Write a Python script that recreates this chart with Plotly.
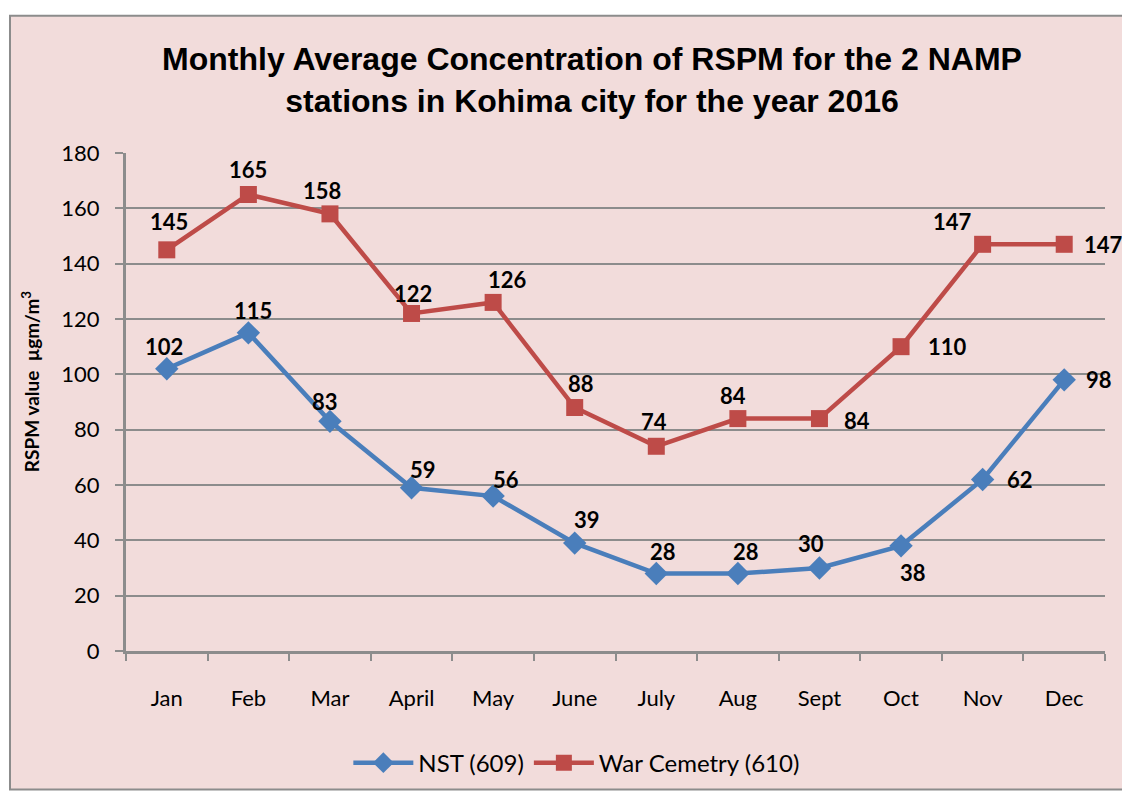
import plotly.graph_objects as go

months = ["Jan", "Feb", "Mar", "April", "May", "June", "July", "Aug", "Sept", "Oct", "Nov", "Dec"]
nst = [102, 115, 83, 59, 56, 39, 28, 28, 30, 38, 62, 98]
war = [145, 165, 158, 122, 126, 88, 74, 84, 84, 110, 147, 147]
y_ticks = [0, 20, 40, 60, 80, 100, 120, 140, 160, 180]

# label offsets in pixels (dx, dy; dy positive = up)
nst_dx = [-3, 5, -5, 11, 13, 12, 7, 8, -8, 12, 37, 35]
nst_dy = [22, 22, 20, 18, 17, 24, 22, 22, 25, -27, 0, 0]
war_dx = [2, 0, -8, 1, 14, 6, -2, -5, 38, 46, -30, 39]
war_dy = [28, 25, 23, 20, 23, 24, 25, 23, -2, 0, 23, 0]

BLUE = "#4A7EBB"
RED = "#BE4B48"
GRID = "#8C8C8C"
BG = "#F2DCDB"
FONT = "Lato, Open Sans, sans-serif"

fig = go.Figure()
fig.add_trace(go.Scatter(
    x=months, y=nst, name="NST (609)", mode="lines+markers",
    line=dict(color=BLUE, width=4.5),
    marker=dict(symbol="diamond", size=18, color=BLUE),
))
fig.add_trace(go.Scatter(
    x=months, y=war, name="War Cemetry (610)", mode="lines+markers",
    line=dict(color=RED, width=4.5),
    marker=dict(symbol="square", size=17, color=RED),
))

for vals, dxs, dys in ((nst, nst_dx, nst_dy), (war, war_dx, war_dy)):
    for m, v, dx, dy in zip(months, vals, dxs, dys):
        fig.add_annotation(x=m, y=v, xref="x", yref="y", text=f"<b>{v}</b>",
                           showarrow=False, xshift=dx, yshift=dy,
                           xanchor="center", yanchor="middle",
                           font=dict(family=FONT, size=22, color="black"))

fig.add_annotation(x=-0.098, y=0.54, xref="paper", yref="paper",
                   text="<b>RSPM value  µgm/m<sup>3</sup></b>", textangle=-90,
                   showarrow=False, xanchor="center", yanchor="middle",
                   font=dict(family=FONT, size=19, color="black"))

fig.add_shape(type="rect", xref="paper", yref="paper",
              x0=-0.1185, x1=1.0235, y0=-0.278, y1=1.2758,
              line=dict(color="#8C8C8C", width=2), fillcolor=BG, layer="below")

fig.update_layout(
    width=1122, height=790,
    paper_bgcolor="white", plot_bgcolor="rgba(0,0,0,0)",
    margin=dict(l=118, r=25, t=145, b=141),
    title=dict(
        text="<b>Monthly Average Concentration of RSPM for the 2 NAMP<br>stations in Kohima city for the year 2016</b>",
        x=0.5205, xanchor="center", y=0.921, yanchor="middle",
        font=dict(family="Liberation Sans, Arial, sans-serif", size=32, color="black"),
    ),
    showlegend=True,
    legend=dict(orientation="h", x=0.46, xanchor="center", y=-0.225, yanchor="middle",
                font=dict(family=FONT, size=24, color="black"),
                bgcolor="rgba(0,0,0,0)", itemwidth=60),
    font=dict(family=FONT, size=22, color="black"),
)
fig.update_xaxes(
    type="category", range=[-0.5, 11.5], tickson="boundaries",
    ticks="outside", ticklen=7, tickwidth=2, tickcolor=GRID,
    showline=True, linecolor=GRID, linewidth=3, showgrid=False,
    ticklabelstandoff=26,
    tickfont=dict(family=FONT, size=22, color="black"),
)
fig.update_yaxes(
    range=[0, 180], tickvals=y_ticks, ticks="outside", ticklen=8, tickwidth=2, tickcolor=GRID,
    showline=True, linecolor=GRID, linewidth=3, showgrid=True, gridcolor=GRID, gridwidth=2,
    zeroline=False, ticklabelstandoff=11,
    tickfont=dict(family=FONT, size=22, color="black"),
)

fig.write_html("out.html")
